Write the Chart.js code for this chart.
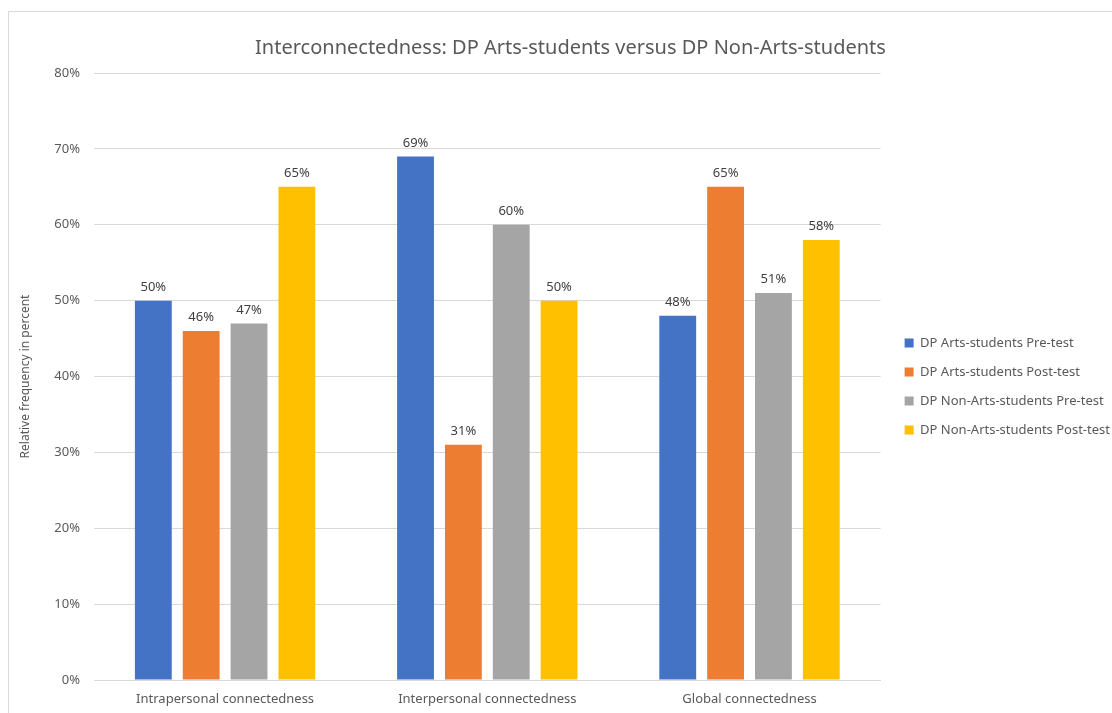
<!DOCTYPE html>
<html>
<head>
<meta charset="utf-8">
<script src="https://cdn.jsdelivr.net/npm/chart.js@4/dist/chart.umd.min.js"></script>
<style>
html,body{margin:0;padding:0;background:#fff;}
#wrap{position:relative;width:1112px;height:713px;overflow:hidden;}
#frame{position:absolute;left:8px;top:11px;width:1120px;height:720px;border:1px solid #d9d9d9;box-sizing:border-box;}
canvas{position:absolute;left:0;top:0;}
</style>
</head>
<body>
<div id="wrap">
<div id="frame"></div>
<canvas id="c" width="1112" height="713"></canvas>
</div>
<script>
const categories = ["Intrapersonal connectedness", "Interpersonal connectedness", "Global connectedness"];
const seriesNames = ["DP Arts-students Pre-test", "DP Arts-students Post-test", "DP Non-Arts-students Pre-test", "DP Non-Arts-students Post-test"];
const artsPre = [50, 69, 48];
const artsPost = [46, 31, 65];
const nonArtsPre = [47, 60, 51];
const nonArtsPost = [65, 50, 58];
const seriesColors = ["#4472C4", "#ED7D31", "#A5A5A5", "#FFC000"];
const yTicks = [0, 10, 20, 30, 40, 50, 60, 70, 80];

const FONT = "'Noto Sans', sans-serif";
const TXT = "#595959";

const valueLabels = {
  id: 'valueLabels',
  afterDatasetsDraw(chart) {
    const ctx = chart.ctx;
    ctx.save();
    ctx.font = "13px " + FONT;
    ctx.fillStyle = "#404040";
    ctx.textAlign = "center";
    ctx.textBaseline = "bottom";
    chart.data.datasets.forEach((ds, i) => {
      const meta = chart.getDatasetMeta(i);
      meta.data.forEach((bar, j) => {
        ctx.fillText(ds.data[j] + "%", bar.x, bar.y - 7);
      });
    });
    ctx.restore();
  }
};

const shiftBoxes = {
  id: 'shiftBoxes',
  afterLayout(chart) {
    const lg = chart.legend;
    if (lg) { lg.top += 30; lg.bottom += 30; lg.left += 8; lg.right += 8; }
    const tb = chart.titleBlock;
    if (tb) { tb.left += 9; tb.right += 9; }
  }
};

const allSeries = [artsPre, artsPost, nonArtsPre, nonArtsPost];

new Chart(document.getElementById('c'), {
  type: 'bar',
  data: {
    labels: categories,
    datasets: allSeries.map((d, i) => ({
      label: seriesNames[i],
      data: d,
      backgroundColor: seriesColors[i],
      borderWidth: 0,
      barPercentage: 0.77,
      categoryPercentage: 0.73
    }))
  },
  options: {
    responsive: false,
    animation: false,
    devicePixelRatio: 1,
    layout: { padding: { left: 11, right: 0, top: 0, bottom: 0 } },
    plugins: {
      title: {
        display: true,
        text: "Interconnectedness: DP Arts-students versus DP Non-Arts-students",
        color: TXT,
        font: { family: FONT, size: 20, weight: 'normal' },
        padding: { top: 36, bottom: 13 }
      },
      legend: {
        position: 'right',
        align: 'center',
        labels: {
          color: TXT,
          font: { family: FONT, size: 13 },
          boxWidth: 9,
          boxHeight: 9,
          padding: 16
        }
      },
      tooltip: { enabled: false }
    },
    scales: {
      x: {
        grid: { display: false, drawTicks: false },
        border: { display: true, color: "#d9d9d9" },
        ticks: { color: TXT, font: { family: FONT, size: 13 }, padding: 11 },
        afterFit(s) { s.height = 33; }
      },
      y: {
        min: 0, max: 80,
        afterBuildTicks(s) { s.ticks = yTicks.map(v => ({ value: v })); },
        grid: { color: "#d9d9d9", drawTicks: false },
        border: { display: false },
        ticks: { color: TXT, font: { family: FONT, size: 13 }, padding: 14, callback: v => v + "%" },
        title: { display: true, text: "Relative frequency in percent", color: TXT, font: { family: FONT, size: 12 }, padding: { top: 7, bottom: 4 } },
        afterFit(s) { s.width = 83; }
      }
    }
  },
  plugins: [valueLabels, shiftBoxes]
});
</script>
</body>
</html>
